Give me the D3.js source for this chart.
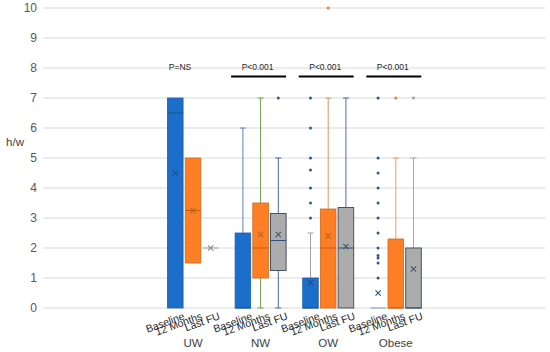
<!DOCTYPE html>
<html><head><meta charset="utf-8">
<script src="https://cdn.jsdelivr.net/npm/d3@7/dist/d3.min.js"></script>
<style>body{margin:0;background:#fff}svg{display:block;font-family:"Liberation Sans",Arial,sans-serif}</style>
</head><body><svg id="c" width="550" height="352"></svg>
<script>
const groups = ["UW", "NW", "OW", "Obese"];
const series = ["Baseline", "12 Months", "Last FU"];
const yTicks = [0,1,2,3,4,5,6,7,8,9,10];
const yLabel = "h/w";
// per-group stats for each series: [min, q1, median, q3, max]
const baselineBox = [[0,0,6.5,7,7],[0,0,0,2.5,6],[0,0,0,1,2.5],[0,0,0,0,0]];
const months12Box = [[1.5,1.5,3.25,5,5],[0,1,2,3.5,7],[0,0,2,3.3,7],[0,0,0,2.3,5]];
const lastFUBox   = [[2,2,2,2,2],[0,1.25,2.25,3.15,5],[0,0,2,3.35,7],[0,0,0,2,5]];
const baselineMean = [4.5, null, 0.85, 0.5];
const months12Mean = [3.25, 2.45, 2.4, null];
const lastFUMean   = [2, 2.45, 2.05, 1.3];
const baselineOutliers = [[],[],[7,6,5,4.6,4,3.5,3],[7,5,4.5,4,3.5,3,2.5,2,1.75,1.67,1.5,1]];
const months12Outliers = [[],[],[10],[7]];
const lastFUOutliers   = [[],[7],[],[7]];
const pLabels = ["P=NS", "P<0.001", "P<0.001", "P<0.001"];
const pBar = [false, true, true, true];

// styles
const fillC = {"Baseline":"#1b6fcb","12 Months":"#fd7e24","Last FU":"#acacac"};
const strokeC = {"Baseline":"#1a5fae","12 Months":"#d2691c","Last FU":"#44546a"};
const medianC = {"Baseline":"#1a5590","12 Months":"#c55a11","Last FU":"#2f4f7f"};
const meanC = {"Baseline":"#1f4e8c","12 Months":"#b5651d","Last FU":"#44546a"};
const dotC = {"Baseline":"#2f5597","12 Months":"#ed7d31","Last FU":"#7a8aa0"};
const whiskerC = {
  "NW|Baseline":"#5a84b8","NW|12 Months":"#6fa04a","NW|Last FU":"#4a6b94",
  "OW|Baseline":"#a0a0a0","OW|12 Months":"#d29a5a","OW|Last FU":"#4a6fa0",
  "Obese|Baseline":"#6f8fc0","Obese|12 Months":"#f29a63","Obese|Last FU":"#a8a8a8",
  "UW|Baseline":"#5a84b8","UW|12 Months":"#d29a5a","UW|Last FU":"#a0a0a0"};
const outlierOverride = {"Obese|Last FU":"#a0a0a0","NW|Last FU":"#44546a"};

const boxes = {"Baseline":baselineBox,"12 Months":months12Box,"Last FU":lastFUBox};
const means = {"Baseline":baselineMean,"12 Months":months12Mean,"Last FU":lastFUMean};
const outs = {"Baseline":baselineOutliers,"12 Months":months12Outliers,"Last FU":lastFUOutliers};

const svg = d3.select("#c");
const plotL = 43, plotR = 545;
const y = d3.scaleLinear().domain([0,10]).range([308,8]);
const x0 = d3.scaleBand().domain(groups).range([159.2, 429.6]);
const half = 25.5;
const x1 = d3.scaleBand().domain(series)
  .range([x0.bandwidth()/2 - half, x0.bandwidth()/2 + half]).paddingInner(0.12);
const bw = x1.bandwidth();

// gridlines
svg.append("g").selectAll("line").data(yTicks).join("line")
  .attr("x1", plotL).attr("x2", plotR)
  .attr("y1", d => y(d)).attr("y2", d => y(d))
  .attr("stroke", "#d9d9d9").attr("stroke-width", 1);

// y axis
const ya = svg.append("g").attr("transform", `translate(${plotL},0)`)
  .call(d3.axisLeft(y).tickValues(yTicks).tickSize(0).tickPadding(6));
ya.select(".domain").remove();
ya.selectAll("text").attr("fill", "#595959").style("font-size", "12px")
  .style("font-family", '"Liberation Sans",Arial,sans-serif');

svg.append("text").attr("x", 15).attr("y", 146).attr("text-anchor", "middle")
  .attr("fill", "#404040").style("font-size", "11.5px").text(yLabel);

// boxes
groups.forEach((g, gi) => {
  series.forEach(s => {
    const [mn, q1, md, q3, mx] = boxes[s][gi];
    const cx = x0(g) + x1(s) + bw/2;
    const left = x0(g) + x1(s);
    const wc = whiskerC[g + "|" + s];
    const gg = svg.append("g");
    // whiskers
    if (mx > q3) {
      gg.append("line").attr("x1", cx).attr("x2", cx).attr("y1", y(q3)).attr("y2", y(mx))
        .attr("stroke", wc).attr("stroke-width", 1);
      gg.append("line").attr("x1", cx - 3).attr("x2", cx + 3).attr("y1", y(mx)).attr("y2", y(mx))
        .attr("stroke", wc).attr("stroke-width", 1);
    }
    if (mn < q1) {
      gg.append("line").attr("x1", cx).attr("x2", cx).attr("y1", y(q1)).attr("y2", y(mn))
        .attr("stroke", wc).attr("stroke-width", 1);
      gg.append("line").attr("x1", cx - 3).attr("x2", cx + 3).attr("y1", y(mn)).attr("y2", y(mn))
        .attr("stroke", wc).attr("stroke-width", 1);
    }
    if (q3 > q1) {
      gg.append("rect").attr("x", left).attr("y", y(q3)).attr("width", bw)
        .attr("height", y(q1) - y(q3)).attr("fill", fillC[s])
        .attr("stroke", strokeC[s]).attr("stroke-width", s === "Last FU" ? 1 : 0.8);
    }
    // median
    gg.append("line").attr("x1", left).attr("x2", left + bw).attr("y1", y(md)).attr("y2", y(md))
      .attr("stroke", q3 > q1 ? medianC[s] : (s === "Baseline" ? "#7a9cc8" : "#a0a0a0"))
      .attr("stroke-width", 1);
    // mean
    const m = means[s][gi];
    if (m !== null) {
      const r = 2.6, my = y(m);
      gg.append("path").attr("d", `M${cx-r},${my-r}L${cx+r},${my+r}M${cx-r},${my+r}L${cx+r},${my-r}`)
        .attr("stroke", (q3 > q1 || s !== "Last FU") ? meanC[s] : "#8a8a8a").attr("stroke-width", 1.1)
        .attr("fill", "none");
    }
    // outliers
    const oc = outlierOverride[g + "|" + s] || dotC[s];
    gg.selectAll("circle").data(outs[s][gi]).join("circle")
      .attr("cx", cx).attr("cy", d => y(d)).attr("r", 1.5).attr("fill", oc);

    // sub-category label
    svg.append("text")
      .attr("transform", `translate(${cx + 10},${y(0) + 11}) rotate(-20)`)
      .attr("text-anchor", "end").attr("fill", "#262626")
      .style("font-size", "10.5px").text(s);
  });
  // group label
  svg.append("text").attr("x", x0(g) + x0.bandwidth()/2).attr("y", 347)
    .attr("text-anchor", "middle").attr("fill", "#404040")
    .style("font-size", "11.5px").text(g);
  // p label
  const gc = x0(g) + x0.bandwidth()/2;
  svg.append("text").attr("x", gc - (pBar[gi] ? 3 : 13)).attr("y", 70)
    .attr("text-anchor", "middle").attr("fill", "#262626")
    .style("font-size", "8.5px").text(pLabels[gi]);
  if (pBar[gi]) {
    svg.append("line").attr("x1", x0(g) + x1("Baseline") - 4).attr("x2", x0(g) + x1("Last FU") + bw)
      .attr("y1", 76.5).attr("y2", 76.5).attr("stroke", "#000").attr("stroke-width", 2.2);
  }
});
</script></body></html>
